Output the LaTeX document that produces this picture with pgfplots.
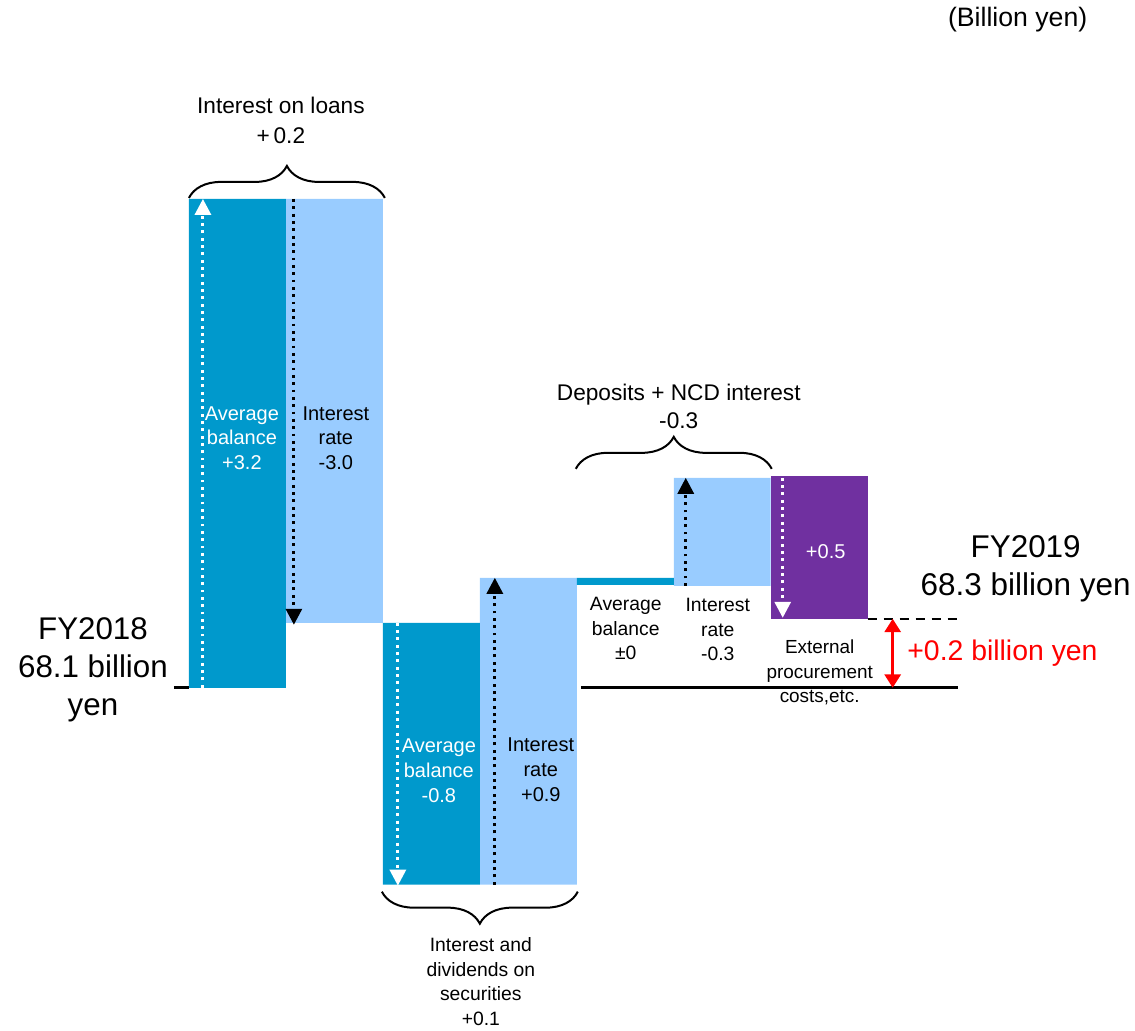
\documentclass[border=0pt]{standalone}
\usepackage{pgfplots}
\pgfplotsset{compat=1.18}
\usepackage{pgfplotstable}
\usepackage{fontspec}
\setmainfont{Liberation Sans}
\usetikzlibrary{arrows.meta,decorations.pathreplacing}
\definecolor{dblue}{HTML}{0099CC}
\definecolor{lblue}{HTML}{99CCFF}
\definecolor{purp}{HTML}{7030A0}
\definecolor{redc}{HTML}{FF0000}
\newcommand\fs[2]{\fontsize{#1}{#2}\selectfont}

% floating waterfall bars (vertical unit = picture pixel, baseline FY2018 at 342)
\pgfplotstableread{
x     base dark light purple
237.5 342  489  0     0
334.5 407  0    424   0
431.5 145  262  0     0
528.5 145  0    307   0
625.5 445  7    0     0
722.5 444  0    108   0
819.5 411  0    0     143
}\bars

\begin{document}
\begin{tikzpicture}
\begin{axis}[
  anchor=south west, at={(0,0)},
  scale only axis, width=851.25pt, height=772.5pt,
  xmin=0, xmax=1135, ymin=0, ymax=1030,
  axis lines=none, clip=false,
  ybar stacked, bar width=97,
]
\path (axis cs:0,0) rectangle (axis cs:1135,1030);
\addplot[draw=none,fill=none] table[x=x,y=base]{\bars};
\addplot[draw=none,fill=dblue] table[x=x,y=dark]{\bars};
\addplot[draw=none,fill=lblue] table[x=x,y=light]{\bars};
\addplot[draw=none,fill=purp] table[x=x,y=purple]{\bars};
\end{axis}

% annotations in the same units as the axis (1 unit = 0.75pt)
\begin{scope}[x=0.75pt, y=0.75pt]
% baseline and final level
\draw[line width=2.4pt] (174,342) -- (189,342);
\draw[line width=2.4pt] (581,342) -- (958,342);
\draw[line width=1.4pt, dash pattern=on 7pt off 5pt] (868,411) -- (958,411);

% dotted arrows
\tikzset{dotarr/.style={line width=2.3pt, dash pattern=on 2.2pt off 3.3pt,
   -{Triangle[width=12pt,length=12pt]}}}
\draw[dotarr, white] (203,342) -- (203,831);
\draw[dotarr, black] (294,831) -- (294,405);
\draw[dotarr, white] (398,407) -- (398,144);
\draw[dotarr, black] (495,145) -- (495,452);
\draw[dotarr, black] (686,444) -- (686,552);
\draw[dotarr, white] (783,552) -- (783,412);

% red difference arrow
\draw[redc, line width=2.2pt, {Triangle[width=12pt,length=10pt]}-{Triangle[width=12pt,length=10pt]}]
  (893,411) -- (893,342);

% braces
\draw[line width=1.5pt, decorate, decoration={brace, amplitude=24pt}]
  (189,832) -- (385,832);
\draw[line width=1.5pt, decorate, decoration={brace, amplitude=24pt}]
  (576,561) -- (772,561);
\draw[line width=1.5pt, decorate, decoration={brace, amplitude=24pt}]
  (578,138) -- (382,138);

% texts
\node[font=\fs{20}{24}] at (1018,1010) {(Billion yen)};
\node[font=\fs{17}{22.5}, align=center] at (281,910) {Interest on loans\\+\,0.2};
\node[font=\fs{17}{20.5}, align=center] at (679,623.5) {Deposits + NCD interest\\-0.3};
\node[font=\fs{14.5}{18.6}, align=center] at (481,48) {Interest and\\dividends on\\securities\\+0.1};

\node[font=\fs{15}{18.4}, align=center, white] at (242,592) {Average\\balance\\+3.2};
\node[font=\fs{15}{18.4}, align=center] at (336,592) {Interest\\rate\\-3.0};
\node[font=\fs{15}{18.4}, align=center, white] at (439,259) {Average\\balance\\-0.8};
\node[font=\fs{15}{18.4}, align=center] at (541,260) {Interest\\rate\\+0.9};
\node[font=\fs{14.5}{18.4}, align=center] at (626,401) {Average\\balance\\±0};
\node[font=\fs{14.5}{18.4}, align=center] at (718,400) {Interest\\rate\\-0.3};
\node[font=\fs{15}{18}, white] at (826,478) {+0.5};
\node[font=\fs{14.2}{18.4}, align=center] at (820,357) {External\\procurement\\costs,etc.};

\node[font=\fs{23.5}{28.5}, align=center] at (93,360) {FY2018\\68.1 billion\\yen};
\node[font=\fs{23.6}{28.5}, align=center] at (1026,461) {FY2019\\68.3 billion yen};
\node[font=\fs{21.3}{26}, redc, anchor=west] at (903,377) {+0.2 billion yen};
\end{scope}
\end{tikzpicture}
\end{document}
